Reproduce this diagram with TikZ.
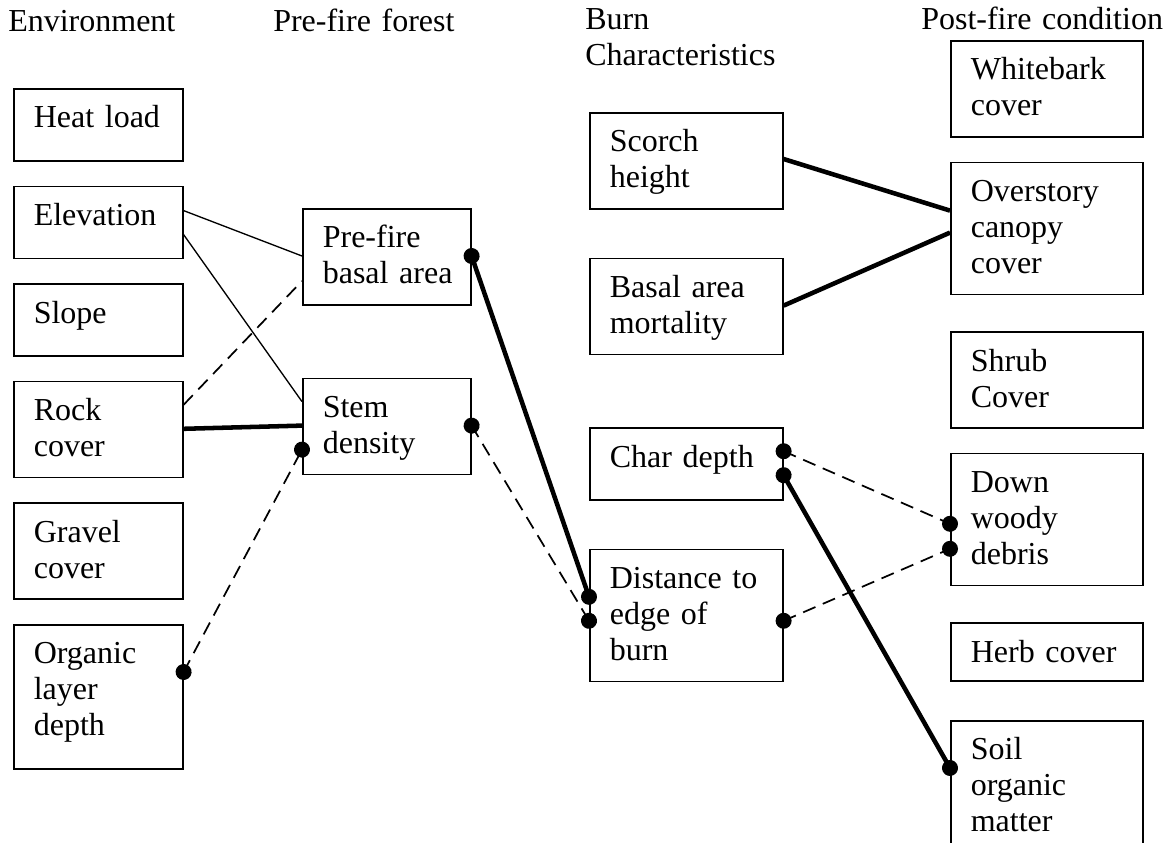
\documentclass[tikz,border=0pt]{standalone}
\usepackage{fontspec}
\setmainfont{Liberation Serif}
\usetikzlibrary{positioning}
\usetikzlibrary{decorations.markings}
\tikzset {
  % variable box, text hangs from the top edge
  var/.style = {
    draw = black,
    line width = 1.2pt,
    rectangle,
    anchor = north west,
    align = left,
    inner xsep = 15pt,
    inner ysep = 0pt,
    text height = 29.25pt
  },
  env/.style = {var, text width = 96.75pt},
  pre/.style = {var, text width = 96pt},
  burn/.style = {var, text width = 114.75pt},
  post/.style = {var, text width = 114pt},
  % box heights
  box72/.style = {text depth = 24.75pt},
  box96/.style = {text depth = 42.75pt},
  box132/.style = {text depth = 69.75pt},
  box144/.style = {text depth = 78.75pt},
  % column heading
  head/.style = {
    anchor = base west,
    inner sep = 0pt,
    align = left,
    text width = 200pt
  }
}
\tikzset {
  link/.style = {
    draw = black,
    line width = 1pt
  },
  strong/.style = {
    link,
    line width = 3.4pt
  },
  neg/.style = {
    link,
    line width = 1.3pt,
    dash pattern = on 10pt off 6pt
  },
  % filled dot at both ends of a link
  dot ends/.style = {
    postaction = {
      decorate,
      decoration = {
        markings,
        mark = at position 0 with {\fill circle (6pt);},
        mark = at position 1 with {\fill circle (6pt);}
      }
    }
  }
}
\begin{document}
\begin{tikzpicture}[x = 0.75pt, y = -0.75pt, font = \fontsize{24}{27}\selectfont]
    \useasboundingbox (0, 0) rectangle (1166, 842);

    \node[head] (h-env) at (8, 32) {Environment};
    \node[head] (h-pre) at (273, 32) {Pre-fire forest};
    \node[head] (h-burn) at (585, 30) {Burn\\Characteristics};
    \node[head] (h-post) at (921, 30) {Post-fire condition};

    % environment
    \node[env, box72] (heat) at (13, 88) {Heat~load};
    \node[env, box72] (elev) [below=18pt of heat] {Elevation};
    \node[env, box72] (slope) [below=18pt of elev] {Slope};
    \node[env, box96] (rock) [below=18pt of slope] {Rock\\cover};
    \node[env, box96] (gravel) [below=18pt of rock] {Gravel\\cover};
    \node[env, box144] (organic) [below=18pt of gravel] {Organic\\layer\\depth};

    % pre-fire forest
    \node[pre, box96] (basal) at (302, 208) {Pre-fire\\basal~area};
    \node[pre, box96] (stem) [below=54pt of basal] {Stem\\density};

    % burn characteristics
    \node[burn, box96] (scorch) at (589, 112) {Scorch\\height};
    \node[burn, box96] (mort) [below=36pt of scorch] {Basal~area\\mortality};
    \node[burn, box72] (char) [below=54pt of mort] {Char~depth};
    \node[burn, box132] (dist) [below=36pt of char] {Distance~to\\edge~of\\burn};

    % post-fire condition
    \node[post, box96] (white) at (950, 40) {Whitebark\\cover};
    \node[post, box132] (canopy) [below=18pt of white] {Overstory\\canopy\\cover};
    \node[post, box96] (shrub) [below=27pt of canopy] {Shrub\\Cover};
    \node[post, box132] (woody) [below=18pt of shrub] {Down\\woody\\debris};
    \node[post, text depth=14.25pt] (herb) [below=27pt of woody] {Herb~cover};
    \node[post, box144] (soil) [below=28.5pt of herb] {Soil\\organic\\matter};

    \draw[link] ([yshift=-18.75pt]elev.north east) -- ([yshift=-36pt]basal.north west);
    \draw[link] ([yshift=-36.75pt]elev.north east) -- ([yshift=-18pt]stem.north west);
    \draw[neg] ([yshift=-18pt]rock.north east) -- ([yshift=-54.75pt]basal.north west);
    \draw[strong] ([yshift=-36pt]rock.north east) -- ([yshift=-36pt]stem.north west);
    \draw[neg, dot ends] ([yshift=-36pt]organic.north east) -- ([yshift=-54pt]stem.north west);
    \draw[strong, dot ends] ([yshift=-36pt]basal.north east) -- ([yshift=-36pt]dist.north west);
    \draw[neg, dot ends] ([yshift=-36pt]stem.north east) -- ([yshift=-54pt]dist.north west);
    \draw[strong] ([yshift=-35.25pt]scorch.north east) -- ([yshift=-36.75pt]canopy.north west);
    \draw[strong] ([yshift=-36pt]mort.north east) -- ([yshift=-53.25pt]canopy.north west);
    \draw[neg, dot ends] ([yshift=-18pt]char.north east) -- ([yshift=-53.25pt]woody.north west);
    \draw[strong, dot ends] ([yshift=-36pt]char.north east) -- ([yshift=-36pt]soil.north west);
    \draw[neg, dot ends] ([yshift=-54pt]dist.north east) -- ([yshift=-72pt]woody.north west);
\end{tikzpicture}
\end{document}
